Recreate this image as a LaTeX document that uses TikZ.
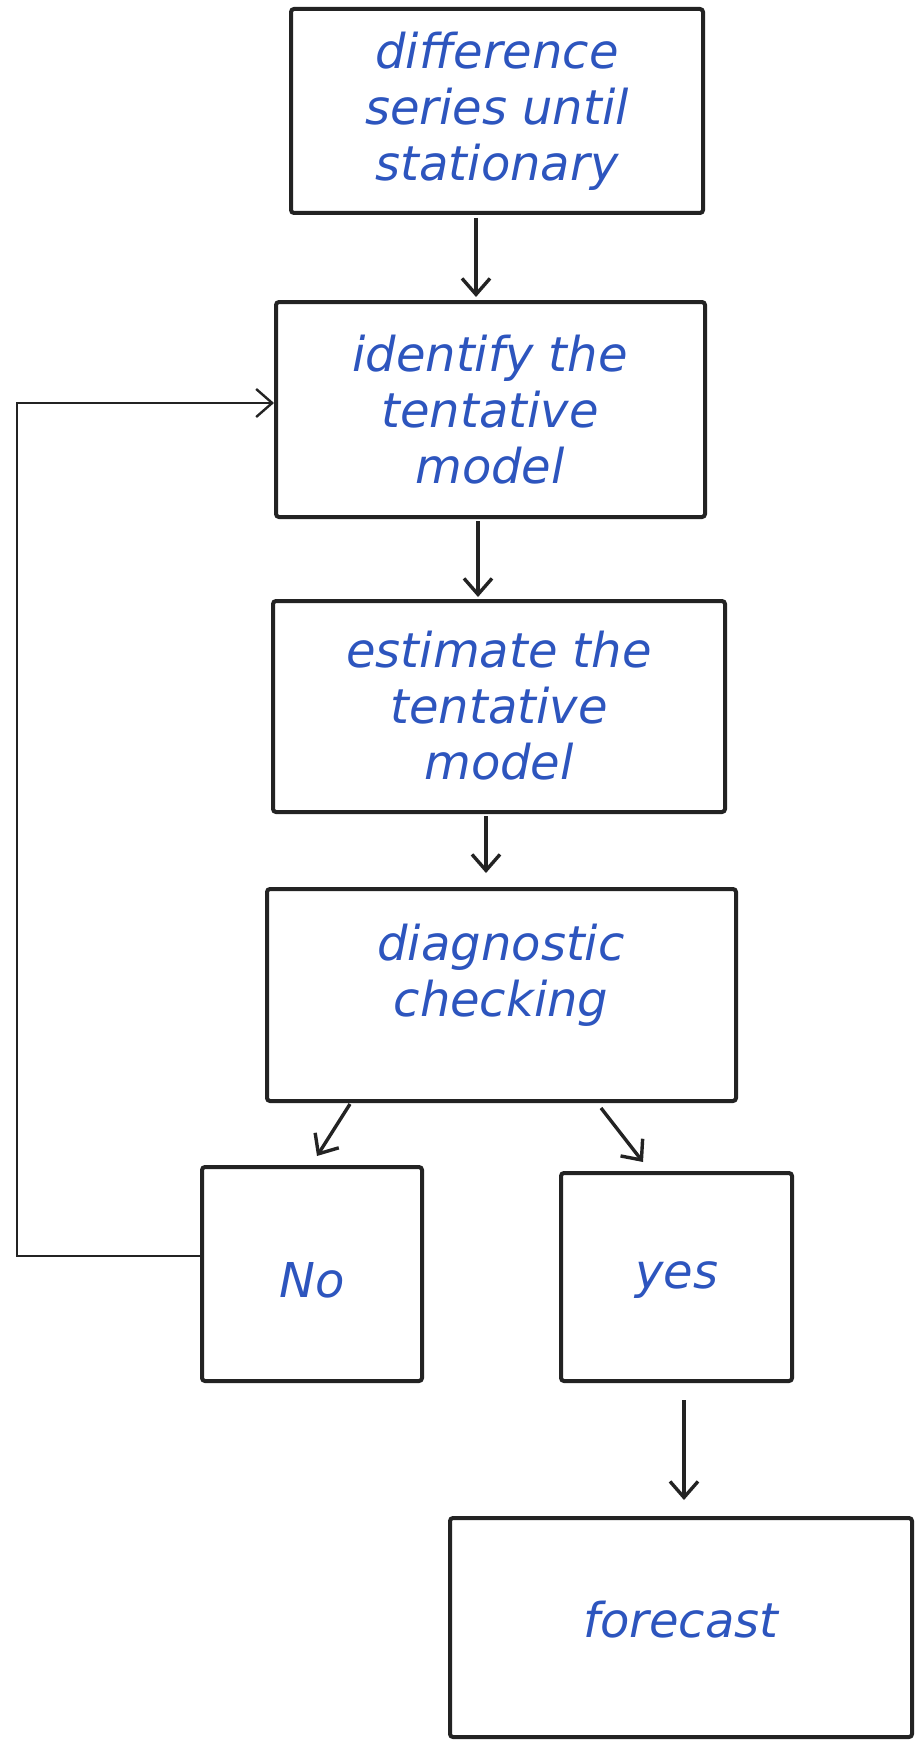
\documentclass[tikz,border=0pt]{standalone}
\usepackage{fontspec}
\setmainfont{DejaVu Sans}
\usetikzlibrary{arrows.meta}
\definecolor{ink}{RGB}{35,35,35}
\definecolor{pen}{RGB}{45,85,190}
\tikzset{
  box/.style={draw=ink, line width=4pt, rounded corners=3pt},
  lbl/.style={text=pen, font=\fontsize{48}{56}\selectfont\itshape, align=center},
  conn/.style={draw=ink, line width=3.4pt, -{Straight Barb[length=16pt,width=28pt]}},
  fb/.style={draw=ink, line width=2.4pt, -{Straight Barb[length=16pt,width=28pt]}},
}
\begin{document}
\begin{tikzpicture}[x=1pt,y=-1pt]
\useasboundingbox (0,0) rectangle (915,1744);
\draw[box] (291,9) rectangle (703,213);
\node[lbl] (t1) at (497,111) {difference\\series until\\stationary};
\draw[box] (276,302) rectangle (705,517);
\node[lbl] (t2) at (490,410) {identify the\\tentative\\model};
\draw[box] (273,601) rectangle (725,812);
\node[lbl] (t3) at (499,706) {estimate the\\tentative\\model};
\draw[box] (267,889) rectangle (736,1101);
\node[lbl] (t4) at (501,975) {diagnostic\\checking};
\draw[box] (202,1167) rectangle (422,1381);
\node[lbl] (t5) at (312,1280) {No};
\draw[box] (561,1173) rectangle (792,1381);
\node[lbl] (t6) at (677,1280) {yes};
\draw[box] (450,1518) rectangle (912,1737);
\node[lbl] (t7) at (681,1620) {forecast};
\coordinate (a1s) at (476,218);
\coordinate (a1e) at (476,297);
\coordinate (a2s) at (478,521);
\coordinate (a2e) at (478,597);
\coordinate (a3s) at (486,816);
\coordinate (a3e) at (486,873);
\coordinate (a4s) at (350,1104);
\coordinate (a4e) at (317,1156);
\coordinate (a5s) at (601,1108);
\coordinate (a5e) at (643,1162);
\coordinate (a6s) at (684,1400);
\coordinate (a6e) at (684,1500);
\coordinate (fbs) at (202,1256);
\coordinate (fbe) at (274,403);
\draw[conn] (a1s) -- (a1e);
\draw[conn] (a2s) -- (a2e);
\draw[conn] (a3s) -- (a3e);
\draw[conn] (a4s) -- (a4e);
\draw[conn] (a5s) -- (a5e);
\draw[conn] (a6s) -- (a6e);
\draw[fb] (fbs) -- (17,1256) -- (17,403) -- (fbe);
\end{tikzpicture}
\end{document}
